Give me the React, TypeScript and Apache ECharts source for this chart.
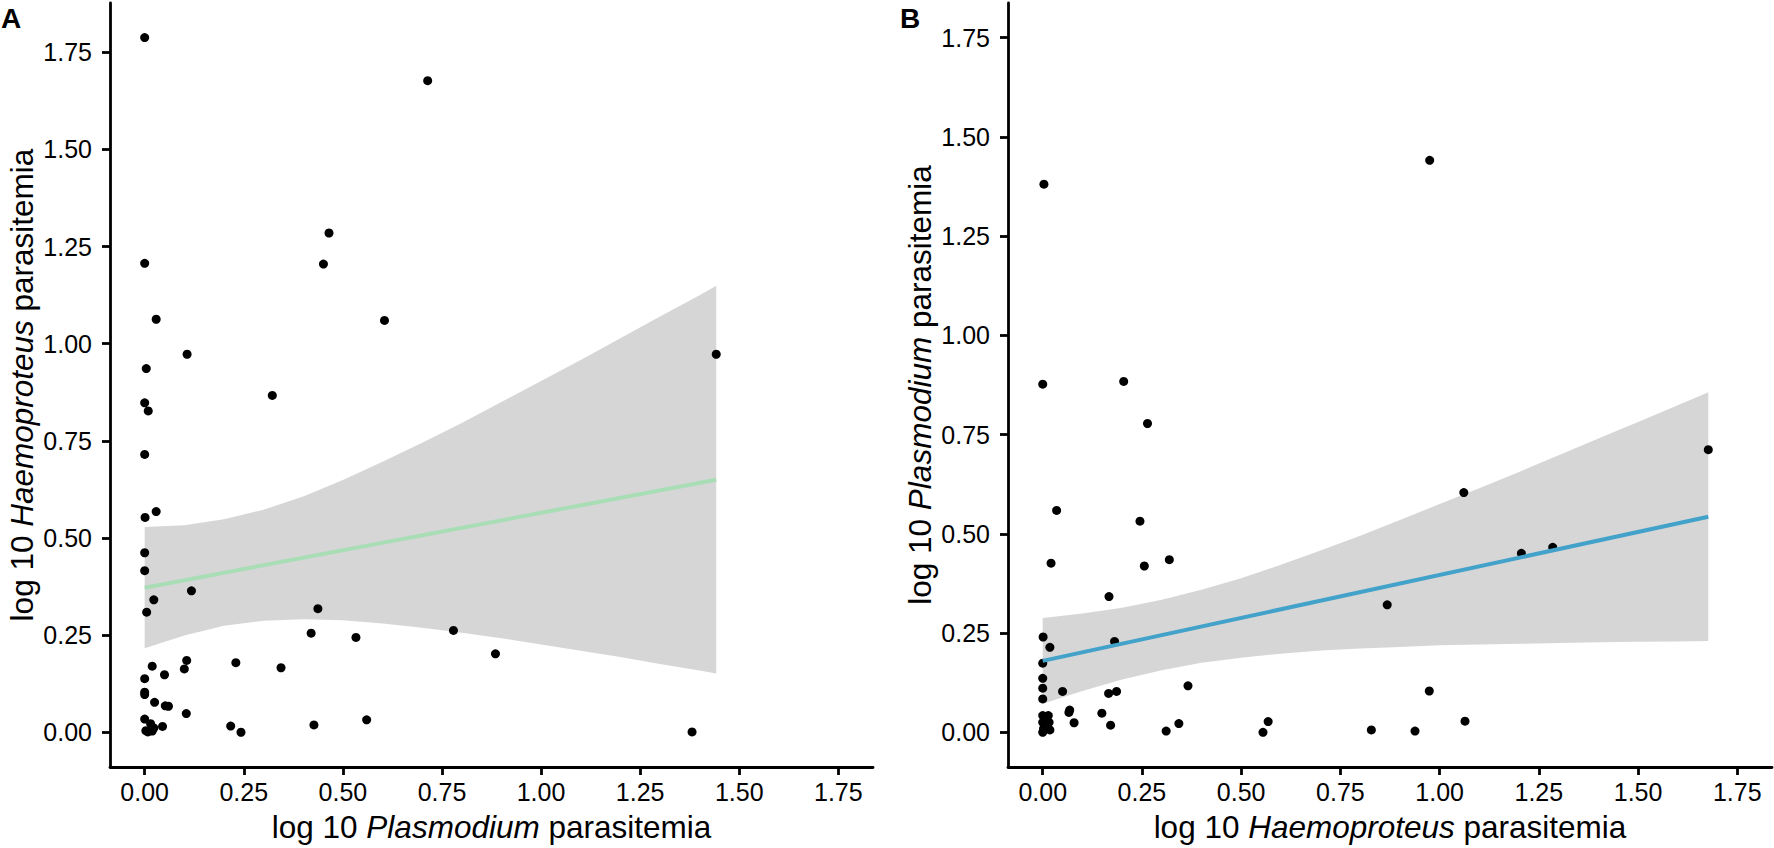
import React, { useEffect, useRef } from "react";
import * as echarts from "echarts";

// ---- tick values (both panels, both axes) ----
const tickValues = [0, 0.25, 0.5, 0.75, 1, 1.25, 1.5, 1.75];

// ---- Panel A: x = log10 Plasmodium, y = log10 Haemoproteus ----
const panelAPoints: [number, number][] = [
  [0, 1.788], [0.714, 1.677], [0.465, 1.285], [0.451, 1.205], [0, 1.207],
  [0.029, 1.063], [0.605, 1.06], [0.107, 0.973], [1.442, 0.973], [0.004, 0.936],
  [0.322, 0.867], [0, 0.848], [0.009, 0.827], [0, 0.715], [0.029, 0.568],
  [0.001, 0.553], [0, 0.462], [0, 0.416], [0.118, 0.364], [0.023, 0.341],
  [0.005, 0.309], [0.437, 0.318], [0.42, 0.255], [0.533, 0.244], [0.779, 0.262],
  [0.885, 0.202], [0.019, 0.17], [0.106, 0.185], [0.1, 0.163], [0.23, 0.179],
  [0.344, 0.166], [0, 0.138], [0.05, 0.148], [0, 0.103], [0, 0.097],
  [0.025, 0.077], [0.052, 0.068], [0.06, 0.067], [0.105, 0.048], [0, 0.034],
  [0.015, 0.022], [0.023, 0.011], [0.045, 0.015], [0.003, 0.004], [0.008, 0.001],
  [0.019, 0.003], [0.217, 0.016], [0.243, 0], [0.427, 0.019], [0.56, 0.032],
  [1.381, 0.001],
];
const panelAFitX = [0, 1.442];
const panelAFitY = [0.372, 0.65];
const panelABandX = [0, 0.1, 0.2, 0.3, 0.4, 0.5, 0.6, 0.7, 0.8, 0.9, 1.0, 1.1, 1.2, 1.3, 1.4, 1.442];
const panelABandUpper = [0.528, 0.533, 0.548, 0.573, 0.607, 0.649, 0.696, 0.745, 0.796, 0.85, 0.904, 0.958, 1.014, 1.07, 1.125, 1.149];
const panelABandLower = [0.216, 0.249, 0.274, 0.287, 0.291, 0.288, 0.28, 0.269, 0.256, 0.242, 0.226, 0.21, 0.194, 0.176, 0.159, 0.151];

// ---- Panel B: x = log10 Haemoproteus, y = log10 Plasmodium ----
const panelBPoints: [number, number][] = [
  [0.003, 1.381], [0.975, 1.441], [0, 0.877], [0.204, 0.884], [0.264, 0.778],
  [1.677, 0.712], [1.061, 0.604], [0.035, 0.559], [0.245, 0.532], [1.206, 0.451],
  [1.285, 0.466], [0.021, 0.426], [0.256, 0.419], [0.319, 0.435], [0.167, 0.342],
  [0.868, 0.321], [0.001, 0.24], [0.018, 0.214], [0.181, 0.229], [0, 0.174],
  [0, 0.136], [0, 0.111], [0, 0.084], [0.05, 0.103], [0.166, 0.098],
  [0.186, 0.103], [0.366, 0.117], [0.974, 0.104], [0.068, 0.056], [0.066, 0.05],
  [0.149, 0.048], [0.079, 0.024], [0.171, 0.018], [0.311, 0.003], [0.343, 0.022],
  [0.555, 0], [0.568, 0.027], [0.828, 0.006], [0.938, 0.003], [1.064, 0.028],
  [0, 0.042], [0.014, 0.042], [0, 0.025], [0.016, 0.025], [0.002, 0.009],
  [0.018, 0.006], [0, 0],
];
const panelBFitX = [0, 1.677];
const panelBFitY = [0.18, 0.543];
const panelBBandX = [0, 0.1, 0.2, 0.3, 0.4, 0.5, 0.6, 0.7, 0.8, 0.9, 1.0, 1.1, 1.2, 1.3, 1.4, 1.5, 1.6, 1.677];
const panelBBandUpper = [0.288, 0.299, 0.314, 0.334, 0.359, 0.388, 0.422, 0.458, 0.495, 0.535, 0.575, 0.615, 0.656, 0.698, 0.74, 0.782, 0.824, 0.857];
const panelBBandLower = [0.072, 0.104, 0.133, 0.156, 0.175, 0.188, 0.198, 0.206, 0.211, 0.215, 0.219, 0.221, 0.223, 0.225, 0.227, 0.228, 0.229, 0.23];

const panelLabels = ["A", "B"];

const FONT = '"Liberation Sans", Arial, Helvetica, sans-serif';
const AXIS_W = 2.8;

function xAxis(gridIndex: number, italic: string) {
  return {
    type: "value",
    gridIndex,
    min: -0.0875,
    max: 1.8375,
    axisLine: { show: true, onZero: false, lineStyle: { color: "#000", width: AXIS_W } },
    axisTick: { show: true, length: 8, customValues: tickValues, lineStyle: { color: "#000", width: AXIS_W } },
    axisLabel: {
      customValues: tickValues,
      formatter: (v: number) => v.toFixed(2),
      fontSize: 25,
      color: "#000",
      margin: 12,
      fontFamily: FONT,
    },
    splitLine: { show: false },
    name: `log 10 {i|${italic}} parasitemia`,
    nameLocation: "middle",
    nameGap: 44,
    nameTextStyle: {
      fontSize: 31.5,
      color: "#000",
      fontFamily: FONT,
      rich: { i: { fontStyle: "italic", fontSize: 31.5, color: "#000", fontFamily: FONT } },
    },
  };
}

function yAxis(gridIndex: number, italic: string, min: number, max: number) {
  return {
    type: "value",
    gridIndex,
    min,
    max,
    axisLine: { show: true, onZero: false, lineStyle: { color: "#000", width: AXIS_W } },
    axisTick: { show: true, length: 8, customValues: tickValues, lineStyle: { color: "#000", width: AXIS_W } },
    axisLabel: {
      customValues: tickValues,
      formatter: (v: number) => v.toFixed(2),
      fontSize: 25,
      color: "#000",
      margin: 18,
      fontFamily: FONT,
    },
    splitLine: { show: false },
    name: `log 10 {i|${italic}} parasitemia`,
    nameLocation: "middle",
    nameGap: 72,
    nameTextStyle: {
      fontSize: 31.5,
      color: "#000",
      fontFamily: FONT,
      rich: { i: { fontStyle: "italic", fontSize: 31.5, color: "#000", fontFamily: FONT } },
    },
  };
}

function bandSeries(idx: number, bx: number[], up: number[], lo: number[]) {
  return {
    type: "custom",
    xAxisIndex: idx,
    yAxisIndex: idx,
    silent: true,
    data: [[bx[0], lo[0]]],
    renderItem: (_p: any, api: any) => {
      const pts: number[][] = [];
      for (let i = 0; i < bx.length; i++) pts.push(api.coord([bx[i], up[i]]));
      for (let i = bx.length - 1; i >= 0; i--) pts.push(api.coord([bx[i], lo[i]]));
      return {
        type: "polygon",
        shape: { points: pts },
        style: { fill: "rgba(153,153,153,0.4)", stroke: "none" },
      };
    },
  };
}

export default function App() {
  const ref = useRef<HTMLDivElement>(null);
  useEffect(() => {
    if (!ref.current) return;
    const chart = echarts.init(ref.current, undefined, { renderer: "svg" });
    chart.setOption({
      animation: false,
      backgroundColor: "#fff",
      title: [
        {
          text: panelLabels[0],
          left: 1,
          top: 4,
          padding: 0,
          textStyle: { fontSize: 28, fontWeight: "bold", fontFamily: FONT, color: "#000" },
        },
        {
          text: panelLabels[1],
          left: 900,
          top: 4,
          padding: 0,
          textStyle: { fontSize: 28, fontWeight: "bold", fontFamily: FONT, color: "#000" },
        },
      ],
      grid: [
        { left: 110, top: 3, width: 763, height: 764 },
        { left: 1008, top: 3, width: 764, height: 764 },
      ],
      xAxis: [xAxis(0, "Plasmodium"), xAxis(1, "Haemoproteus")],
      yAxis: [yAxis(0, "Haemoproteus", -0.0894, 1.877), yAxis(1, "Plasmodium", -0.0875, 1.8375)],
      series: [
        {
          type: "scatter",
          xAxisIndex: 0,
          yAxisIndex: 0,
          data: panelAPoints,
          symbolSize: 9,
          itemStyle: { color: "#000", opacity: 1 },
        },
        bandSeries(0, panelABandX, panelABandUpper, panelABandLower),
        {
          type: "line",
          xAxisIndex: 0,
          yAxisIndex: 0,
          data: panelAFitX.map((x, i) => [x, panelAFitY[i]]),
          symbol: "none",
          lineStyle: { color: "#a8ddb5", width: 4 },
        },
        {
          type: "scatter",
          xAxisIndex: 1,
          yAxisIndex: 1,
          data: panelBPoints,
          symbolSize: 9,
          itemStyle: { color: "#000", opacity: 1 },
        },
        bandSeries(1, panelBBandX, panelBBandUpper, panelBBandLower),
        {
          type: "line",
          xAxisIndex: 1,
          yAxisIndex: 1,
          data: panelBFitX.map((x, i) => [x, panelBFitY[i]]),
          symbol: "none",
          lineStyle: { color: "#43a2ca", width: 4 },
        },
      ],
    });
    return () => chart.dispose();
  }, []);
  return (
    <div
      ref={ref}
      style={{ position: "absolute", left: 0, top: 0, width: 1774, height: 848, background: "#fff" }}
    />
  );
}
